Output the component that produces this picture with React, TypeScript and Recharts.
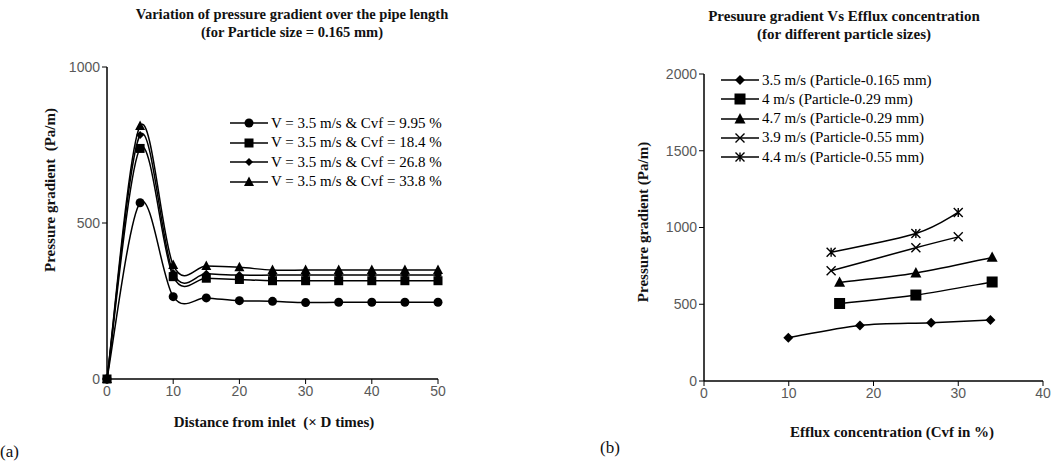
import { LineChart, Line, XAxis, YAxis } from 'recharts'

// left chart: distance from inlet (x D) vs pressure gradient, particle 0.165 mm
const distance = [0, 5, 10, 15, 20, 25, 30, 35, 40, 45, 50]
const cvf995 = [0, 565, 264, 260, 251, 249, 245, 246, 246, 246, 246]
const cvf184 = [0, 739, 328, 323, 319, 315, 315, 315, 315, 315, 315]
const cvf268 = [0, 782, 340, 337, 333, 333, 333, 333, 333, 333, 333]
const cvf338 = [0, 811, 365, 362, 358, 349, 349, 349, 349, 349, 349]

const leftSeries = [
  { key: 'c995', name: 'V = 3.5 m/s & Cvf = 9.95 %', values: cvf995, shape: 'circle', size: 9 },
  { key: 'c184', name: 'V = 3.5 m/s & Cvf = 18.4 %', values: cvf184, shape: 'square', size: 9 },
  { key: 'c268', name: 'V = 3.5 m/s & Cvf = 26.8 %', values: cvf268, shape: 'diamond', size: 8 },
  { key: 'c338', name: 'V = 3.5 m/s & Cvf = 33.8 %', values: cvf338, shape: 'triangle', size: 10 },
]

const leftData = distance.map((d, i) => {
  const row: Record<string, number> = { x: d }
  leftSeries.forEach((s) => (row[s.key] = s.values[i]))
  return row
})

// right chart: efflux concentration vs pressure gradient
const cvf35 = [9.95, 18.4, 26.8, 33.8]
const pg35 = [282, 362, 380, 397]
const cvf40 = [16, 25, 34]
const pg40 = [505, 560, 645]
const cvf47 = [16, 25, 34]
const pg47 = [642, 703, 805]
const cvf39 = [15, 25, 30]
const pg39 = [718, 868, 939]
const cvf44 = [15, 25, 30]
const pg44 = [839, 961, 1098]

const rightSeries = [
  { name: '3.5 m/s (Particle-0.165 mm)', xs: cvf35, ys: pg35, shape: 'diamond', size: 10 },
  { name: '4 m/s (Particle-0.29 mm)', xs: cvf40, ys: pg40, shape: 'square', size: 11 },
  { name: '4.7 m/s (Particle-0.29 mm)', xs: cvf47, ys: pg47, shape: 'triangle', size: 11 },
  { name: '3.9 m/s (Particle-0.55 mm)', xs: cvf39, ys: pg39, shape: 'x', size: 9 },
  { name: '4.4 m/s (Particle-0.55 mm)', xs: cvf44, ys: pg44, shape: 'star', size: 9 },
]

const tickStyle = { fontSize: 14, fill: '#595959', fontFamily: '"Liberation Sans", Arial, sans-serif' }

// excel-like smoothed line (catmull-rom through the points)
const smooth = (context: any) => {
  let pts: [number, number][] = []
  return {
    areaStart() {},
    areaEnd() {},
    lineStart() {
      pts = []
    },
    lineEnd() {
      if (!pts.length) return
      context.moveTo(pts[0][0], pts[0][1])
      for (let i = 0; i < pts.length - 1; i++) {
        const p0 = pts[i - 1] || pts[i]
        const p1 = pts[i]
        const p2 = pts[i + 1]
        const p3 = pts[i + 2] || p2
        context.bezierCurveTo(
          p1[0] + (p2[0] - p0[0]) / 6,
          p1[1] + (p2[1] - p0[1]) / 6,
          p2[0] - (p3[0] - p1[0]) / 6,
          p2[1] - (p3[1] - p1[1]) / 6,
          p2[0],
          p2[1]
        )
      }
    },
    point(x: number, y: number) {
      pts.push([x, y])
    },
  }
}

function Marker({ shape, cx, cy, s }: { shape: string; cx: number; cy: number; s: number }) {
  const h = s / 2
  if (shape === 'circle') return <circle cx={cx} cy={cy} r={h} fill="#000" />
  if (shape === 'square') return <rect x={cx - h} y={cy - h} width={s} height={s} fill="#000" />
  if (shape === 'diamond')
    return <polygon points={`${cx},${cy - h} ${cx + h},${cy} ${cx},${cy + h} ${cx - h},${cy}`} fill="#000" />
  if (shape === 'triangle')
    return <polygon points={`${cx},${cy - h * 1.1} ${cx + h},${cy + h * 0.8} ${cx - h},${cy + h * 0.8}`} fill="#000" />
  const d = `M${cx - h},${cy - h}L${cx + h},${cy + h}M${cx - h},${cy + h}L${cx + h},${cy - h}`
  if (shape === 'x') return <path d={d} stroke="#000" strokeWidth={1.4} fill="none" />
  return <path d={`${d}M${cx},${cy - h}L${cx},${cy + h}`} stroke="#000" strokeWidth={1.4} fill="none" />
}

function LegendBox({ items, top, left, rowGap, fontSize }: any) {
  return (
    <div style={{ position: 'absolute', top, left }}>
      {items.map((it: any, i: number) => (
        <div key={i} style={{ position: 'absolute', top: i * rowGap, left: 0, display: 'flex', alignItems: 'center', whiteSpace: 'nowrap', height: 18, marginTop: -9 }}>
          <svg width={40} height={18}>
            <line x1={0} y1={9} x2={38} y2={9} stroke="#000" strokeWidth={1.5} />
            <Marker shape={it.shape} cx={19} cy={9} s={it.size} />
          </svg>
          <span style={{ fontSize, marginLeft: 1 }}>{it.name}</span>
        </div>
      ))}
    </div>
  )
}

const textBase = { position: 'absolute' as const, whiteSpace: 'nowrap' as const, color: '#111' }

export default function App() {
  return (
    <div style={{ position: 'absolute', left: 0, top: 0, width: 1057, height: 462, background: '#fff', fontFamily: '"Liberation Serif", "Times New Roman", serif', color: '#000' }}>
      <div style={{ ...textBase, left: 92, width: 400, top: 5, textAlign: 'center', fontWeight: 700, fontSize: 14.5, lineHeight: '18px' }}>
        Variation of pressure gradient over the pipe length
        <br />
        (for Particle size = 0.165 mm)
      </div>
      <div style={{ ...textBase, left: 644, width: 400, top: 7, textAlign: 'center', fontWeight: 700, fontSize: 15, lineHeight: '18px' }}>
        Presuure gradient Vs Efflux concentration
        <br />
        (for different particle sizes)
      </div>

      <div style={{ position: 'absolute', left: 0, top: 0 }}>
        <LineChart width={530} height={462} data={leftData} margin={{ top: 67, right: 92, bottom: 53, left: 0 }}>
          <XAxis
            dataKey="x"
            type="number"
            domain={[0, 50]}
            ticks={[0, 10, 20, 30, 40, 50]}
            height={30}
            tick={tickStyle}
            axisLine={{ stroke: '#000', strokeWidth: 1.5 }}
            tickLine={{ stroke: '#000' }}
            tickSize={5}
          />
          <YAxis
            type="number"
            domain={[0, 1000]}
            ticks={[0, 500, 1000]}
            width={107}
            tick={tickStyle}
            axisLine={{ stroke: '#000', strokeWidth: 1.5 }}
            tickLine={{ stroke: '#000' }}
            tickSize={5}
          />
          {leftSeries.map((s) => (
            <Line
              key={s.key}
              dataKey={s.key}
              type={smooth as any}
              stroke="#000"
              strokeWidth={1.5}
              isAnimationActive={false}
              dot={(p: any) => <Marker key={p.index} shape={s.shape} cx={p.cx} cy={p.cy} s={s.size} />}
            />
          ))}
        </LineChart>
      </div>

      <div style={{ position: 'absolute', left: 530, top: 0 }}>
        <LineChart width={527} height={462} margin={{ top: 74, right: 14, bottom: 51, left: 0 }}>
          <XAxis
            dataKey="x"
            type="number"
            domain={[0, 40]}
            ticks={[0, 10, 20, 30, 40]}
            height={30}
            tick={tickStyle}
            axisLine={{ stroke: '#000', strokeWidth: 1.5 }}
            tickLine={{ stroke: '#000' }}
            tickSize={5}
            allowDuplicatedCategory={false}
          />
          <YAxis
            type="number"
            domain={[0, 2000]}
            ticks={[0, 500, 1000, 1500, 2000]}
            width={174}
            tick={tickStyle}
            axisLine={{ stroke: '#000', strokeWidth: 1.5 }}
            tickLine={{ stroke: '#000' }}
            tickSize={5}
          />
          {rightSeries.map((s, si) => (
            <Line
              key={si}
              data={s.xs.map((x, i) => ({ x, y: s.ys[i] }))}
              dataKey="y"
              type={smooth as any}
              stroke="#000"
              strokeWidth={1.5}
              isAnimationActive={false}
              dot={(p: any) => <Marker key={p.index} shape={s.shape} cx={p.cx} cy={p.cy} s={s.size} />}
            />
          ))}
        </LineChart>
      </div>

      <LegendBox items={leftSeries} top={123} left={230} rowGap={19.5} fontSize={15} />
      <LegendBox items={rightSeries} top={80} left={721} rowGap={19.3} fontSize={15} />

      <div style={{ ...textBase, left: 50, top: 190, transform: 'translate(-50%, -50%) rotate(-90deg)', fontWeight: 700, fontSize: 15 }}>
        Pressure gradient&nbsp; (Pa/m)
      </div>
      <div style={{ ...textBase, left: 643, top: 222, transform: 'translate(-50%, -50%) rotate(-90deg)', fontWeight: 700, fontSize: 15 }}>
        Pressure gradient (Pa/m)
      </div>
      <div style={{ ...textBase, left: 274, top: 422, transform: 'translate(-50%, -50%)', fontWeight: 700, fontSize: 15 }}>
        Distance from inlet&nbsp; (× D times)
      </div>
      <div style={{ ...textBase, left: 892, top: 432, transform: 'translate(-50%, -50%)', fontWeight: 700, fontSize: 15 }}>
        Efflux concentration (Cvf in %)
      </div>
      <div style={{ ...textBase, left: 0, top: 452, transform: 'translateY(-50%)', fontSize: 17 }}>(a)</div>
      <div style={{ ...textBase, left: 600, top: 448, transform: 'translateY(-50%)', fontSize: 17 }}>(b)</div>
    </div>
  )
}
